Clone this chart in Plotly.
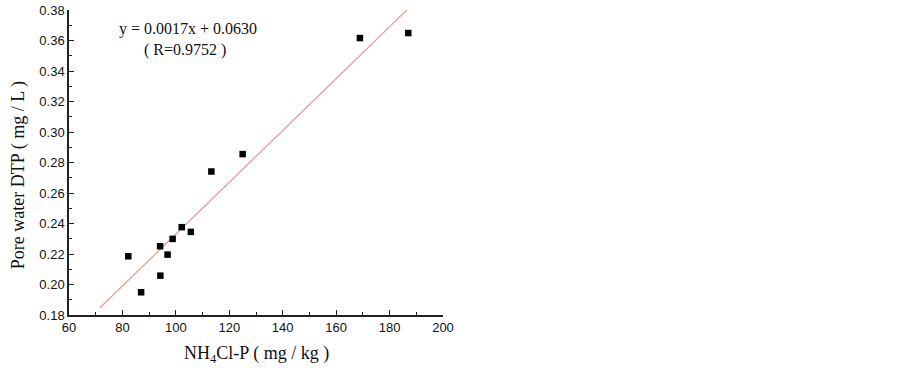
import plotly.graph_objects as go

# Data
nh4cl_p = [82.2, 87.0, 94.1, 94.2, 96.9, 98.8, 102.2, 105.6, 113.3, 125.0, 168.9, 187.0]
dtp = [0.2185, 0.1949, 0.2251, 0.2058, 0.2196, 0.2299, 0.2376, 0.2345, 0.2741, 0.2855, 0.3616, 0.3649]

slope = 0.0017
intercept = 0.0630
fit_x = [71.6, 187.0]
fit_y = [slope * x + intercept for x in fit_x]

x_ticks = [60, 80, 100, 120, 140, 160, 180, 200]
y_ticks = [0.18, 0.20, 0.22, 0.24, 0.26, 0.28, 0.30, 0.32, 0.34, 0.36, 0.38]

fig = go.Figure()
fig.add_trace(go.Scatter(x=fit_x, y=fit_y, mode="lines",
                         line=dict(color="#e09a9a", width=1.2), showlegend=False))
fig.add_trace(go.Scatter(x=nh4cl_p, y=dtp, mode="markers",
                         marker=dict(symbol="square", size=6.5, color="black"),
                         showlegend=False))

tickfont = dict(family="Liberation Sans, Arial", size=13, color="#111")
axis_common = dict(showline=True, linecolor="#222", linewidth=1.5, showgrid=False,
                   zeroline=False, ticks="inside", ticklen=5, tickwidth=1,
                   tickcolor="#222", tickfont=tickfont, mirror=False, automargin=False,
                   ticklabeloverflow="allow")

fig.update_xaxes(range=[60, 200], tickvals=x_ticks, ticktext=[str(v) for v in x_ticks],
                 minor=dict(ticks="inside", ticklen=3, dtick=10, tickcolor="#222"),
                 **axis_common)
fig.update_yaxes(range=[0.18, 0.38], tickvals=y_ticks,
                 ticktext=["%.2f" % v for v in y_ticks],
                 minor=dict(ticks="inside", ticklen=3, dtick=0.01, tickcolor="#222"),
                 **axis_common)

serif = "Liberation Serif, Times New Roman"
fig.add_annotation(text="NH<sub>4</sub>Cl-P ( mg / kg )", xref="paper", yref="paper",
                   x=0.5, y=-0.131, xanchor="center", yanchor="middle", showarrow=False,
                   font=dict(family=serif, size=18, color="#111"))
fig.add_annotation(text="Pore water DTP ( mg / L )", xref="paper", yref="paper",
                   x=-0.136, y=0.459, xanchor="center", yanchor="middle", textangle=-90,
                   showarrow=False, font=dict(family=serif, size=18, color="#111"))
fig.add_annotation(text="y = 0.0017x + 0.0630", xref="paper", yref="paper",
                   x=0.128, y=0.938, xanchor="left", yanchor="middle", showarrow=False,
                   font=dict(family=serif, size=16, color="#111"))
fig.add_annotation(text="( R=0.9752 )", xref="paper", yref="paper",
                   x=0.195, y=0.869, xanchor="left", yanchor="middle", showarrow=False,
                   font=dict(family=serif, size=16, color="#111"))

fig.update_layout(width=902, height=370, plot_bgcolor="white", paper_bgcolor="white",
                  margin=dict(l=69, r=459, t=10, b=55))

# remove the page's default 8px body margin so the figure sits at the window's corner
fig.write_html("out.html", config={"displayModeBar": False},
               post_script="document.body.style.margin='0';")
